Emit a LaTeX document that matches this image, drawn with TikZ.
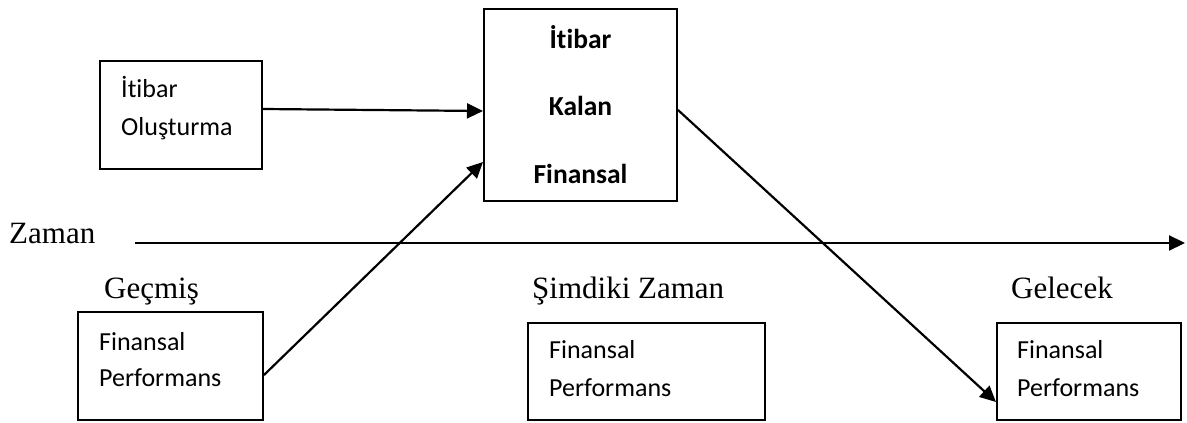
\documentclass[tikz,border=0pt]{standalone}
\usepackage{fontspec}
\setmainfont{Liberation Serif}
\newfontfamily\calib[Ligatures=NoCommon]{Carlito}
\usetikzlibrary{arrows.meta}
\begin{document}
\begin{tikzpicture}[x=1pt,y=-1pt,
  box/.style={draw,line width=2pt,rectangle,inner sep=0pt},
  conn/.style={line width=2.2pt,-{Triangle[length=16pt,width=15pt]}},
  sans/.style={font=\calib\fontsize{26}{30}\selectfont,anchor=base west,inner sep=0pt},
  bsans/.style={font=\calib\bfseries\fontsize{27.5}{31}\selectfont,anchor=base,inner sep=0pt},
  serif/.style={font=\fontsize{31}{36}\selectfont,anchor=base west,inner sep=0pt}]
\useasboundingbox (0,0) rectangle (1187,423);
% boxes
\node[box,minimum width=162pt,minimum height=108pt] (ib) at (181,115) {};
\node[box,minimum width=193pt,minimum height=192pt] (kf) at (580.5,105) {};
\node[box,minimum width=185pt,minimum height=108pt] (fp1) at (170.5,366) {};
\node[box,minimum width=237pt,minimum height=97pt] (fp2) at (646.5,371.5) {};
\node[box,minimum width=184pt,minimum height=97pt] (fp3) at (1089,371.5) {};
% texts
\node[sans] (t1) at (121,97) {İtibar};
\node[sans] (t2) at (121,135) {Oluşturma};
\node[bsans] (c1) at (580.5,48) {İtibar};
\node[bsans] (c2) at (580.5,115) {Kalan};
\node[bsans] (c3) at (580.5,183) {Finansal};
\node[sans] (a1) at (99,350) {Finansal};
\node[sans] (a2) at (99,386) {Performans};
\node[sans] (b1) at (549,358) {Finansal};
\node[sans] (b2) at (549,396) {Performans};
\node[sans] (d1) at (1017,358) {Finansal};
\node[sans] (d2) at (1017,396) {Performans};
\node[serif] (zaman) at (9,243) {Zaman};
\node[serif] (gecmis) at (104,298) {Geçmiş};
\node[serif] (simdi) at (532,298) {Şimdiki Zaman};
\node[serif] (gelecek) at (1011,298) {Gelecek};
% time axis
\coordinate (z0) at (135,243);
\coordinate (z1) at (1185,243);
\draw[conn] (z0) -- (z1);
% connectors
\draw[conn] (ib.east |- 0,109) -- (kf.west |- 0,111);
\draw[conn] (fp1.east |- 0,375) -- (kf.west |- 0,162);
\draw[conn] (kf.east |- 0,110) -- (fp3.west |- 0,402);
\end{tikzpicture}
\end{document}
